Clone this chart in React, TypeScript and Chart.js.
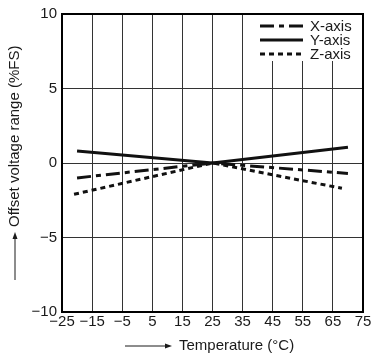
import React, { useEffect, useRef } from 'react';
import { Chart, registerables } from 'chart.js';

Chart.register(...registerables);

// ---- data ----
const xAxisTemps = [-20, 25, 70];
const xAxisOffset = [-1.0, 0, -0.7];
const yAxisTemps = [-20, 25, 70];
const yAxisOffset = [0.8, 0, 1.05];
const zAxisTemps = [-21, 25, 68];
const zAxisOffset = [-2.1, 0, -1.7];
const seriesNames = ['X-axis', 'Y-axis', 'Z-axis'];
const tempMin = -25;
const tempMax = 75;
const tempStep = 10;
const offsetMin = -10;
const offsetMax = 10;
const offsetStep = 5;
const xTitle = 'Temperature (°C)';
const yTitle = 'Offset voltage range (%FS)';

const FONT = '"Liberation Sans", Arial, Helvetica, sans-serif';
const INK = '#1a1a1a';

const toPoints = (xs: number[], ys: number[]) => xs.map((x, i) => ({ x, y: ys[i] }));
const fmt = (v: number) => (v < 0 ? '\u2212' + Math.abs(v) : String(v));

const decor = {
  id: 'decor',
  afterDatasetsDraw(chart: any) {
    const { ctx, chartArea: a } = chart;
    ctx.save();
    const boxLeft = a.right - 108;
    ctx.fillStyle = '#ffffff';
    ctx.fillRect(boxLeft, a.top, a.right - boxLeft, 47);
    const rowsY = [a.top + 12, a.top + 26, a.top + 40];
    chart.data.datasets.forEach((ds: any, i: number) => {
      const y = rowsY[i];
      ctx.beginPath();
      ctx.setLineDash(ds.borderDash || []);
      ctx.lineWidth = ds.borderWidth;
      ctx.strokeStyle = ds.borderColor;
      ctx.lineCap = 'butt';
      ctx.moveTo(a.right - 103, y);
      ctx.lineTo(a.right - 60, y);
      ctx.stroke();
      ctx.setLineDash([]);
      ctx.fillStyle = INK;
      ctx.font = `15px ${FONT}`;
      ctx.textAlign = 'left';
      ctx.textBaseline = 'middle';
      ctx.fillText(ds.label, a.right - 53, y + 1);
    });
    ctx.restore();
  },
  afterDraw(chart: any) {
    const { ctx, chartArea: a } = chart;
    ctx.save();
    ctx.strokeStyle = '#000';
    ctx.lineWidth = 2;
    ctx.strokeRect(a.left, a.top, a.right - a.left, a.bottom - a.top);

    ctx.fillStyle = INK;
    ctx.strokeStyle = INK;
    ctx.lineWidth = 1;

    // x title with arrow
    ctx.font = `15px ${FONT}`;
    const arrowLen = 47;
    const gap = 7;
    const start = a.left + 63;
    const ty = a.bottom + 34;
    ctx.beginPath();
    ctx.moveTo(start, ty);
    ctx.lineTo(start + arrowLen - 4, ty);
    ctx.stroke();
    ctx.beginPath();
    ctx.moveTo(start + arrowLen, ty);
    ctx.lineTo(start + arrowLen - 7, ty - 2.5);
    ctx.lineTo(start + arrowLen - 7, ty + 2.5);
    ctx.closePath();
    ctx.fill();
    ctx.textAlign = 'left';
    ctx.textBaseline = 'middle';
    ctx.fillText(xTitle, start + arrowLen + gap, ty);

    // y title with arrow (rotated)
    ctx.font = `15px ${FONT}`;
    const yArrow = 48;
    const ygap = 5;
    const tx = 15;
    const yStart = a.bottom - 32;
    ctx.beginPath();
    ctx.moveTo(tx, yStart);
    ctx.lineTo(tx, yStart - yArrow + 4);
    ctx.stroke();
    ctx.beginPath();
    ctx.moveTo(tx, yStart - yArrow);
    ctx.lineTo(tx - 2.5, yStart - yArrow + 7);
    ctx.lineTo(tx + 2.5, yStart - yArrow + 7);
    ctx.closePath();
    ctx.fill();
    ctx.save();
    ctx.translate(tx, yStart - yArrow - ygap);
    ctx.rotate(-Math.PI / 2);
    ctx.textAlign = 'left';
    ctx.textBaseline = 'middle';
    ctx.fillText(yTitle, 0, 0);
    ctx.restore();
    ctx.restore();
  },
};

export default function App() {
  const ref = useRef<HTMLCanvasElement | null>(null);
  useEffect(() => {
    document.body.style.margin = '0';
    if (!ref.current) return;
    const chart = new Chart(ref.current, {
      type: 'line',
      data: {
        datasets: [
          {
            label: seriesNames[0],
            data: toPoints(xAxisTemps, xAxisOffset),
            borderColor: '#111',
            borderWidth: 3,
            borderDash: [14, 5, 5, 5],
            pointRadius: 0,
            fill: false,
          },
          {
            label: seriesNames[1],
            data: toPoints(yAxisTemps, yAxisOffset),
            borderColor: '#111',
            borderWidth: 3,
            borderDash: [],
            pointRadius: 0,
            fill: false,
          },
          {
            label: seriesNames[2],
            data: toPoints(zAxisTemps, zAxisOffset),
            borderColor: '#111',
            borderWidth: 3,
            borderDash: [5, 4],
            pointRadius: 0,
            fill: false,
          },
        ],
      },
      options: {
        animation: false,
        responsive: false,
        devicePixelRatio: 1,
        layout: { padding: { top: 10, right: 11, left: 0, bottom: 0 } },
        plugins: { legend: { display: false }, tooltip: { enabled: false } },
        scales: {
          x: {
            type: 'linear',
            min: tempMin,
            max: tempMax,
            afterFit: (s: any) => { s.height = 44; },
            ticks: {
              stepSize: tempStep,
              callback: (v: any) => fmt(Number(v)),
              color: INK,
              font: { family: FONT, size: 15 },
              padding: 1,
              maxRotation: 0,
              autoSkip: false,
            },
            grid: { color: '#333', lineWidth: 1, drawTicks: false },
            border: { display: false },
          },
          y: {
            type: 'linear',
            min: offsetMin,
            max: offsetMax,
            afterFit: (s: any) => { s.width = 62; },
            ticks: {
              stepSize: offsetStep,
              callback: (v: any) => fmt(Number(v)),
              color: INK,
              font: { family: FONT, size: 15 },
              padding: 5,
            },
            grid: { color: '#333', lineWidth: 1, drawTicks: false },
            border: { display: false },
          },
        },
      },
      plugins: [decor],
    });
    return () => chart.destroy();
  }, []);
  return (
    <div style={{ width: 374, height: 356, background: '#fff' }}>
      <canvas ref={ref} width={374} height={356} style={{ display: 'block', width: 374, height: 356 }} />
    </div>
  );
}
